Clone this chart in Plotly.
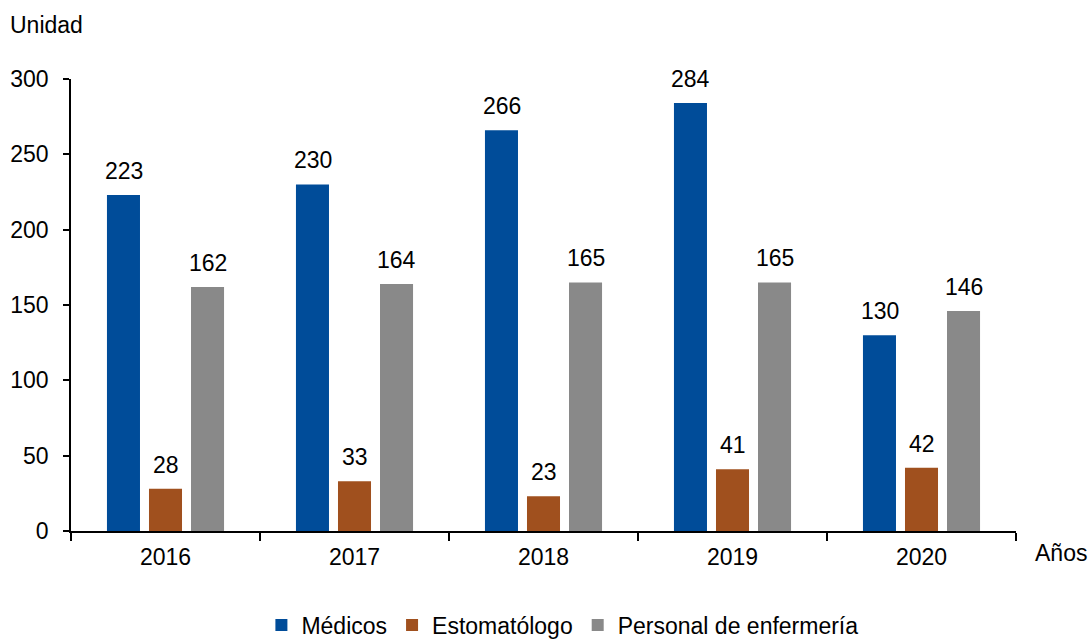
import plotly.graph_objects as go

# Personal de salud por año
years = ["2016", "2017", "2018", "2019", "2020"]
medicos = [223, 230, 266, 284, 130]
estomatologo = [28, 33, 23, 41, 42]
enfermeria = [162, 164, 165, 165, 146]

series = [
    ("Médicos", medicos, "#004C99"),
    ("Estomatólogo", estomatologo, "#A0501E"),
    ("Personal de enfermería", enfermeria, "#898989"),
]

FONT = "Liberation Sans, Arial, sans-serif"
FS = 23

fig = go.Figure()
for name, vals, color in series:
    fig.add_trace(go.Bar(
        name=name, x=years, y=vals,
        marker=dict(color=color, line=dict(width=0)),
        hoverinfo="x+y+name",
    ))

# value labels above each bar (x given as category index)
offsets = [-42, 0, 42]
for (name, vals, color), dx in zip(series, offsets):
    for i, v in enumerate(vals):
        fig.add_annotation(
            x=i, y=v, xref="x", yref="y", text=str(v),
            showarrow=False, xshift=dx, yshift=9, yanchor="bottom",
            font=dict(family=FONT, size=FS, color="#000000"),
        )

fig.add_annotation(x=0, y=1, xref="paper", yref="paper", text="Unidad",
                   showarrow=False, xanchor="left", yanchor="middle",
                   xshift=-63, yshift=54,
                   font=dict(family=FONT, size=FS, color="#000000"))
fig.add_annotation(x=1, y=0, xref="paper", yref="paper", text="Años",
                   showarrow=False, xanchor="left", yanchor="middle",
                   xshift=17, yshift=-22,
                   font=dict(family=FONT, size=FS, color="#000000"))

fig.update_layout(
    width=1091, height=642,
    margin=dict(l=71, r=75, t=79, b=111, autoexpand=False),
    paper_bgcolor="white", plot_bgcolor="white",
    barmode="group", bargap=0.333, bargroupgap=0.214,
    font=dict(family=FONT, size=FS, color="#000000"),
    showlegend=True,
    legend=dict(orientation="h", x=0.52, xanchor="center", y=-0.208,
                yanchor="middle", font=dict(family=FONT, size=FS),
                itemwidth=30, traceorder="normal"),
    xaxis=dict(type="category", range=[-0.5, len(years) - 0.5],
               showline=True, linecolor="#000000", linewidth=1.5,
               ticks="outside", tickson="boundaries", ticklen=8, tickwidth=1.5,
               tickcolor="#000000", showgrid=False, zeroline=False,
               tickangle=0, automargin=False, ticklabelstandoff=5,
               tickfont=dict(family=FONT, size=FS)),
    yaxis=dict(range=[0, 300], dtick=50, showline=True, linecolor="#000000",
               linewidth=1.5, ticks="outside", ticklen=6, tickwidth=1.5,
               tickcolor="#000000", showgrid=False, zeroline=False,
               automargin=False, ticklabelstandoff=10,
               tickfont=dict(family=FONT, size=FS)),
)

fig.write_html("out.html")
